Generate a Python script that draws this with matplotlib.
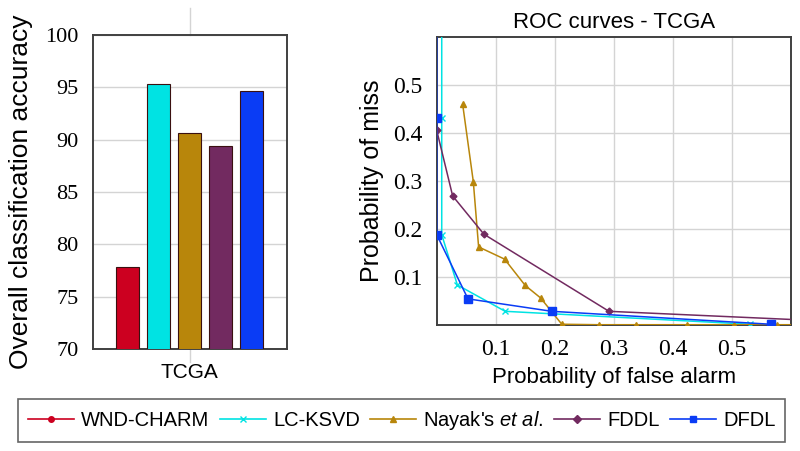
import numpy as np
import matplotlib
matplotlib.use('Agg')
import matplotlib.pyplot as plt
from matplotlib.lines import Line2D

# data
methods = ['WND-CHARM', 'LC-KSVD', "Nayak's et al.", 'FDDL', 'DFDL']
colors = ['#cc0020', '#00e3e3', '#b8860b', '#722a60', '#0a3cf5']
markers = ['o', 'x', '^', 'D', 's']
accuracy = [77.8, 95.3, 90.6, 89.35, 94.65]

# ROC points (false alarm, miss) -- WND-CHARM has no curve
lcksvd_fa = [0.0085, 0.0085, 0.0085, 0.035, 0.116, 0.531]
lcksvd_miss = [1.0, 0.432, 0.188, 0.083, 0.028, 0.001]
nayak_fa = [0.044, 0.062, 0.071, 0.115, 0.150, 0.176, 0.212, 0.275, 0.337, 0.425, 0.504, 0.576, 1.0]
nayak_miss = [0.46, 0.299, 0.1625, 0.137, 0.082, 0.056, 0.001, 0.0, 0.0, 0.0, 0.0, 0.0, 0.0]
fddl_fa = [0.0, 0.027, 0.080, 0.292, 0.8]
fddl_miss = [0.406, 0.269, 0.189, 0.028, 0.0]
dfdl_fa = [0.0, 0.0, 0.0, 0.053, 0.195, 0.566]
dfdl_miss = [1.0, 0.432, 0.188, 0.054, 0.028, 0.001]

serif = 'Liberation Serif'
sans = 'Liberation Sans'
grid_c = '#d4d4d4'
frame_c = '#404040'

plt.rcParams['mathtext.fontset'] = 'custom'
plt.rcParams['mathtext.it'] = 'Liberation Sans:italic'
plt.rcParams['mathtext.rm'] = 'Liberation Sans'

fig = plt.figure(figsize=[8, 4.51], dpi=100)

# ---- bar chart ----
ax1 = fig.add_axes([0.1159, 0.2262, 0.2425, 0.6962])
xpos = np.arange(len(accuracy)) - 2
ax1.bar(xpos, accuracy, width=0.74, color=colors, edgecolor='#3a1010', linewidth=0.8, zorder=3)
ax1.set_ylim(70, 100)
ax1.set_xlim(-3.13, 3.13)
ax1.set_yticks([70, 75, 80, 85, 90, 95, 100])
ax1.set_xticks([0])
ax1.set_xticklabels(['TCGA'], fontsize=15, family=sans)
ax1.yaxis.grid(True, color=grid_c, linewidth=1, zorder=0)
ax1.tick_params(length=0, pad=10)
for lab in ax1.get_yticklabels():
    lab.set_family(serif)
    lab.set_fontsize(16)
ax1.set_ylabel('Overall classification accuracy', fontsize=19, family=sans, labelpad=9)
for s in ax1.spines.values():
    s.set_color(frame_c)
    s.set_linewidth(1.4)
# x grid line sticking out above and below the frame
ax1.plot([0, 0], [1.0, 1.085], transform=ax1.get_xaxis_transform(), color=grid_c, lw=1, clip_on=False)
ax1.plot([0, 0], [0.0, -0.04], transform=ax1.get_xaxis_transform(), color=grid_c, lw=1, clip_on=False)

# ---- ROC ----
ax2 = fig.add_axes([0.5459, 0.28, 0.4425, 0.637])
ax2.plot(lcksvd_fa, lcksvd_miss, color=colors[1], marker='x', ms=4, mew=1, lw=1.1, zorder=3)
ax2.plot(nayak_fa, nayak_miss, color=colors[2], marker='^', ms=5, lw=1.1, zorder=3)
ax2.plot(fddl_fa, fddl_miss, color=colors[3], marker='D', ms=3.5, lw=1.1, zorder=3)
ax2.plot(dfdl_fa, dfdl_miss, color=colors[4], marker='s', ms=6, lw=1.1, zorder=4)
ax2.set_xlim(0, 0.6)
ax2.set_ylim(0, 0.6)
ax2.set_xticks([0.1, 0.2, 0.3, 0.4, 0.5])
ax2.set_yticks([0.1, 0.2, 0.3, 0.4, 0.5])
ax2.grid(True, color=grid_c, linewidth=1, zorder=0)
ax2.tick_params(length=0, pad=10)
for lab in ax2.get_xticklabels() + ax2.get_yticklabels():
    lab.set_family(serif)
    lab.set_fontsize(17)
ax2.set_title('ROC curves - TCGA', fontsize=16, family=sans, pad=7)
ax2.set_xlabel('Probability of false alarm', fontsize=16, family=sans, labelpad=5)
ax2.set_ylabel('Probability of miss', fontsize=18, family=sans, labelpad=7)
for s in ax2.spines.values():
    s.set_color(frame_c)
    s.set_linewidth(1.4)

# ---- legend ----
handles = []
for m, c, mk in zip(methods, colors, markers):
    handles.append(Line2D([], [], color=c, marker=mk, ms=4, lw=1.2))
labels = ['WND-CHARM', 'LC-KSVD', "Nayak's $\\it{et\\ al.}$", 'FDDL', 'DFDL']
leg = fig.legend(handles, labels, loc='center', bbox_to_anchor=(0.502, 0.068), ncol=5,
                 fancybox=False, edgecolor=frame_c, handlelength=2.3, columnspacing=0.5,
                 handletextpad=0.35, borderpad=0.5, prop={'family': sans, 'size': 14.5})
leg.get_frame().set_linewidth(1.2)

fig.savefig('out.png', dpi=100)
